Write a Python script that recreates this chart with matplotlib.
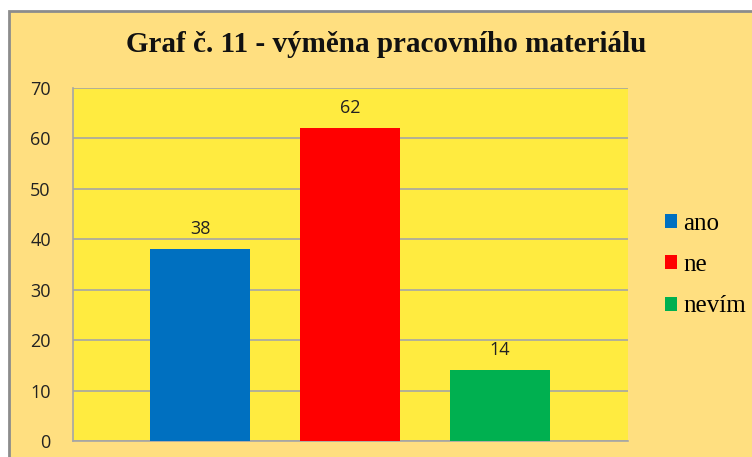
import matplotlib
matplotlib.use("Agg")
import matplotlib.pyplot as plt
from matplotlib.patches import Rectangle

# data
categories = ["ano", "ne", "nevím"]
values = [38, 62, 14]
colors = ["#0070C0", "#FF0000", "#00B050"]
yticks = [0, 10, 20, 30, 40, 50, 60, 70]

W, H = 752, 457
fig = plt.figure(figsize=(W / 100, H / 100), dpi=100)
fig.patch.set_facecolor("white")

# chart frame (cut off at right and bottom like the screenshot)
frame = Rectangle((9 / W, -0.05), 1.2, 1.05 - 11 / H, transform=fig.transFigure,
                  facecolor="#FFDF80", edgecolor="#8C8C8C", linewidth=2, zorder=-10)
fig.patches.append(frame)

# plot area: left 73, right 628, top 88, bottom 441 (pixels)
ax = fig.add_axes([73 / W, 1 - 441 / H, (628 - 73) / W, (441 - 88) / H])
ax.set_zorder(1)
ax.set_facecolor("#FFEB40")

x = list(range(len(categories)))
bars = ax.bar(x, values, width=0.667, color=colors, zorder=3, label=categories)
for xi, v in zip(x, values):
    ax.annotate(str(v), (xi, v), xytext=(0, 8), textcoords="offset points",
                ha="center", va="bottom", fontsize=13, family="Open Sans", color="#222222")

ax.set_xlim(-0.847, 2.853)
ax.set_ylim(0, 70)
ax.set_yticks(yticks)
ax.set_xticks([])
ax.yaxis.grid(True, color="#A6A6A6", linewidth=1.2, zorder=1)
ax.tick_params(axis="y", length=0, pad=16, labelsize=13, labelcolor="#222222")
for lab in ax.get_yticklabels():
    lab.set_family("Open Sans")
for s in ["top", "right"]:
    ax.spines[s].set_visible(False)
for s in ["left", "bottom"]:
    ax.spines[s].set_color("#A6A6A6")
    ax.spines[s].set_linewidth(1.2)

fig.text(386 / W, 1 - 44 / H, "Graf č. 11 - výměna pracovního materiálu",
         ha="center", va="center", fontsize=21, fontweight="bold",
         family="Liberation Serif", color="#111111")

leg = fig.legend(bars, categories, loc="center left", bbox_to_anchor=(642 / W, 1 - 265 / H),
                 frameon=False, prop={"family": "Liberation Serif", "size": 18},
                 handlelength=0.5, handleheight=0.5, handletextpad=0.25, labelspacing=0.78)
leg.set_zorder(2)

fig.savefig("out.png", dpi=100)
